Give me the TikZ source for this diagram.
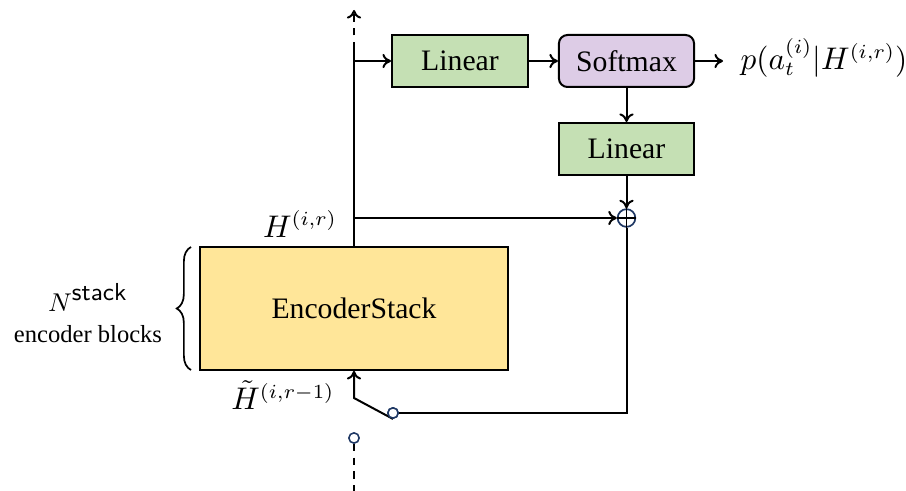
\documentclass[tikz,border=0pt]{standalone}
\usepackage{fontspec}
\setmainfont{Liberation Serif}
\usetikzlibrary{arrows.meta,decorations.pathreplacing}
\definecolor{lgreen}{HTML}{C5E0B4}
\definecolor{lpurple}{HTML}{DDCCE6}
\definecolor{lyellow}{HTML}{FFE699}
\definecolor{navy}{HTML}{1F3864}
\begin{document}
\begin{tikzpicture}[x=0.35pt,y=-0.35pt, line width=0.7pt, >={To[length=3pt,width=5pt]},
  font=\fontsize{10.4}{12.5}\selectfont,
  blk/.style={draw, inner sep=0pt, minimum height=18.2pt},
  port/.style={circle, draw=navy, fill=white, inner sep=0pt, minimum size=3.6pt, line width=0.55pt},
  dsh/.style={dash pattern=on 2.6pt off 2.2pt},
  mlab/.style={font=\fontsize{10.7}{12.5}\selectfont}]
\useasboundingbox (0,0) rectangle (906,491);
\node[blk, fill=lgreen, minimum width=47.6pt] (lin1) at (460,61) {Linear};
\node[blk, fill=lpurple, rounded corners=3pt, minimum width=47.3pt] (soft) at (626.5,61) {Softmax};
\node[blk, fill=lgreen, minimum width=47pt] (lin2) at (626.5,149) {Linear};
\node[blk, fill=lyellow, minimum width=107.8pt, minimum height=43pt] (enc) at (354,308.5) {EncoderStack};
\node[circle, draw=navy, fill=white, inner sep=0pt, minimum size=6.2pt, line width=0.6pt] (plus) at (626.5,218) {};
\draw[line width=0.5pt] (plus.north) -- (plus.south) (plus.west) -- (plus.east);
% labels
\node[mlab] (plab) at (824,58) {$p(a_t^{(i)}|H^{(i,r)})$};
\node[mlab] (hlab) at (300,224) {$H^{(i,r)}$};
\node[mlab] (htlab) at (283,395) {$\tilde{H}^{(i,r-1)}$};
\node[align=center, font=\fontsize{8.6}{11}\selectfont] (nlab) at (88,313) {$N^{\textsf{stack}}$\\encoder blocks};
% coordinates
\coordinate (top) at (354,10);
\coordinate (ds) at (354,49);
\coordinate (br) at (354,61);
\coordinate (hb) at (354,218);
\coordinate (pout) at (723,61);
\coordinate (kn) at (354,398);
\coordinate (bot) at (354,491);
\coordinate (bt) at (191,247);
\coordinate (bb) at (191,370);
% connectors
\draw (enc.north) -- (ds);
\draw[dsh,->] (ds) -- (top);
\draw[->] (br) -- (lin1.west);
\draw[->] (lin1.east) -- (soft.west);
\draw[->] (soft.east) -- (pout);
\draw[->] (soft.south) -- (lin2.north);
\draw[->] (lin2.south) -- (plus.north);
\draw[->] (hb) -- (plus.west);
\node[port] (sw1) at (393,413) {};
\node[port] (sw2) at (354,438) {};
\draw (plus.south) |- (sw1.east);
\draw[->] (sw1.south) -- (kn) -- (enc.south);
\draw[dsh] (sw2.south) -- (bot);
\node[port] at (393,413) {};
\draw[decorate, decoration={brace, amplitude=5pt}, line width=0.6pt] (bb) -- (bt);
\end{tikzpicture}
\end{document}
